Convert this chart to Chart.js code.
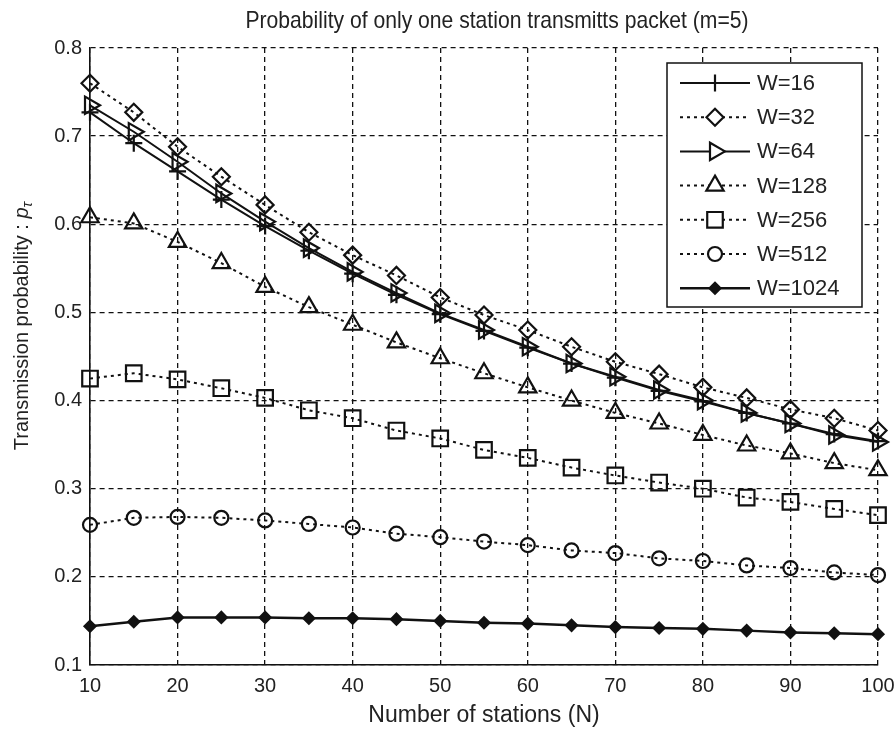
<!DOCTYPE html>
<html lang="en">
<head>
    <meta charset="UTF-8">
    <title>Probability of only one station transmitts packet (m=5)</title>
    <script src="https://cdn.jsdelivr.net/npm/chart.js"></script>
    <style>
        html, body { margin: 0; padding: 0; background: #fff; }
        #wrap { width: 894px; height: 731px; }
    </style>
</head>
<body>
<div id="wrap"><canvas id="probChart" width="894" height="731"></canvas></div>

<script>
    const stations = [10, 15, 20, 25, 30, 35, 40, 45, 50, 55, 60, 65, 70, 75, 80, 85, 90, 95, 100];

    const w16   = [0.727, 0.692, 0.660, 0.628, 0.598, 0.570, 0.544, 0.520, 0.498, 0.479, 0.460, 0.442, 0.426, 0.411, 0.399, 0.386, 0.374, 0.362, 0.354];
    const w32   = [0.760, 0.727, 0.688, 0.654, 0.622, 0.591, 0.565, 0.542, 0.517, 0.497, 0.480, 0.461, 0.444, 0.430, 0.415, 0.403, 0.390, 0.380, 0.366];
    const w64   = [0.735, 0.705, 0.671, 0.635, 0.603, 0.573, 0.546, 0.522, 0.499, 0.480, 0.461, 0.442, 0.427, 0.412, 0.400, 0.386, 0.374, 0.361, 0.353];
    const w128  = [0.608, 0.601, 0.580, 0.556, 0.529, 0.506, 0.486, 0.466, 0.448, 0.431, 0.415, 0.400, 0.386, 0.374, 0.361, 0.349, 0.340, 0.329, 0.321];
    const w256  = [0.425, 0.431, 0.424, 0.414, 0.403, 0.389, 0.380, 0.366, 0.357, 0.344, 0.335, 0.324, 0.315, 0.307, 0.300, 0.290, 0.285, 0.277, 0.270];
    const w512  = [0.259, 0.267, 0.268, 0.267, 0.264, 0.260, 0.256, 0.249, 0.245, 0.240, 0.236, 0.230, 0.227, 0.221, 0.218, 0.213, 0.210, 0.205, 0.202];
    const w1024 = [0.144, 0.149, 0.154, 0.154, 0.154, 0.153, 0.153, 0.152, 0.150, 0.148, 0.147, 0.145, 0.143, 0.142, 0.141, 0.139, 0.137, 0.136, 0.135];

    const seriesLabels = ['W=16', 'W=32', 'W=64', 'W=128', 'W=256', 'W=512', 'W=1024'];
    const yTicks = [0.1, 0.2, 0.3, 0.4, 0.5, 0.6, 0.7, 0.8];

    const ink = '#111';
    const dotted = [3, 4];
    const fontFam = '"Liberation Sans", Arial, sans-serif';

    function pts(arr) {
        return arr.map((v, i) => ({ x: stations[i], y: v }));
    }

    function series(label, values, style, radius, opts) {
        return Object.assign({
            label: label,
            data: pts(values),
            borderColor: ink,
            borderWidth: 2,
            borderDash: [],
            pointStyle: style,
            pointRadius: radius,
            pointHoverRadius: radius,
            pointBorderColor: ink,
            pointBorderWidth: 2.2,
            pointBackgroundColor: 'rgba(0,0,0,0)',
            pointRotation: 0,
            tension: 0,
            clip: false
        }, opts || {});
    }

    const datasets = [
        series(seriesLabels[0], w16, 'cross', 8.5),
        series(seriesLabels[1], w32, 'rectRot', 8.5, { borderDash: dotted }),
        series(seriesLabels[2], w64, 'triangle', 10, { pointRotation: 90 }),
        series(seriesLabels[3], w128, 'triangle', 10, { borderDash: dotted }),
        series(seriesLabels[4], w256, 'rect', 11, { borderDash: dotted }),
        series(seriesLabels[5], w512, 'circle', 7, { borderDash: dotted }),
        series(seriesLabels[6], w1024, 'rectRot', 5.5, { pointBackgroundColor: ink, borderWidth: 2.5 })
    ];

    // title, y title with subscript, legend box inside the plot
    const decorations = {
        id: 'decorations',
        afterDraw(chart) {
            const ctx = chart.ctx;

            ctx.save();
            ctx.fillStyle = '#222';
            ctx.textAlign = 'center';
            ctx.textBaseline = 'middle';
            ctx.font = '24px ' + fontFam;
            ctx.translate(497, 21);
            ctx.scale(0.88, 1);
            ctx.fillText('Probability of only one station transmitts packet (m=5)', 0, 0);
            ctx.restore();

            // y axis title
            ctx.save();
            ctx.fillStyle = '#222';
            ctx.translate(22, 326);
            ctx.rotate(-Math.PI / 2);
            ctx.textBaseline = 'middle';
            ctx.font = '20px ' + fontFam;
            const main = 'Transmission probability : ';
            const wMain = ctx.measureText(main).width;
            ctx.font = 'italic 20px ' + fontFam;
            const wP = ctx.measureText('p').width;
            ctx.font = 'italic 15px ' + fontFam;
            const wT = ctx.measureText('\u03C4').width;
            const x0 = -(wMain + wP + wT) / 2;
            ctx.textAlign = 'left';
            ctx.font = '20px ' + fontFam;
            ctx.fillText(main, x0, 0);
            ctx.font = 'italic 20px ' + fontFam;
            ctx.fillText('p', x0 + wMain, 0);
            ctx.font = 'italic 15px ' + fontFam;
            ctx.fillText('\u03C4', x0 + wMain + wP, 6);
            ctx.restore();

            // legend
            const lx = 667, ly = 63, lw = 195, lh = 244;
            ctx.save();
            ctx.fillStyle = '#fff';
            ctx.fillRect(lx, ly, lw, lh);
            ctx.strokeStyle = ink;
            ctx.lineWidth = 1.5;
            ctx.strokeRect(lx, ly, lw, lh);
            chart.data.datasets.forEach((ds, i) => {
                const y = ly + 20 + i * 34.2;
                ctx.strokeStyle = ink;
                ctx.lineWidth = ds.borderWidth;
                ctx.setLineDash(ds.borderDash || []);
                ctx.beginPath();
                ctx.moveTo(lx + 13, y);
                ctx.lineTo(lx + 83, y);
                ctx.stroke();
                ctx.setLineDash([]);
                ctx.fillStyle = ds.pointBackgroundColor === ink ? ink : '#fff';
                ctx.lineWidth = ds.pointBorderWidth;
                Chart.helpers.drawPoint(ctx, {
                    pointStyle: ds.pointStyle,
                    radius: ds.pointRadius,
                    rotation: ds.pointRotation,
                    borderWidth: ds.pointBorderWidth
                }, lx + 48, y);
                ctx.fillStyle = '#222';
                ctx.font = '22px ' + fontFam;
                ctx.textAlign = 'left';
                ctx.textBaseline = 'middle';
                ctx.fillText(ds.label, lx + 90, y + 1);
            });
            ctx.restore();
        }
    };

    const gridStyle = {
        color: ink,
        lineWidth: 1.3,
        drawTicks: false
    };

    new Chart(document.getElementById('probChart'), {
        type: 'line',
        data: { datasets: datasets },
        options: {
            responsive: false,
            animation: false,
            layout: { padding: { top: 48, right: 16, left: 0, bottom: 0 } },
            plugins: {
                legend: { display: false },
                tooltip: { enabled: false }
            },
            scales: {
                x: {
                    type: 'linear',
                    min: 10,
                    max: 100,
                    grid: gridStyle,
                    border: { display: true, color: ink, width: 1.6, dash: [5, 4] },
                    ticks: {
                        stepSize: 10,
                        padding: 9,
                        color: '#222',
                        font: { family: fontFam, size: 20 }
                    },
                    title: {
                        display: true,
                        text: 'Number of stations (N)',
                        color: '#222',
                        font: { family: fontFam, size: 23 },
                        padding: { top: 0, bottom: 2 }
                    },
                    afterFit(scale) {
                        scale.height = 66;
                        scale.paddingRight = 0;
                        scale.paddingLeft = 0;
                    }
                },
                y: {
                    type: 'linear',
                    min: 0.1,
                    max: 0.8,
                    grid: gridStyle,
                    border: { display: true, color: ink, width: 1.6, dash: [5, 4] },
                    afterBuildTicks(scale) {
                        scale.ticks = yTicks.map(v => ({ value: v }));
                    },
                    ticks: {
                        padding: 8,
                        color: '#222',
                        font: { family: fontFam, size: 20 },
                        callback: v => Number(v).toFixed(1)
                    },
                    afterFit(scale) {
                        scale.width = 90;
                        scale.paddingTop = 0;
                        scale.paddingBottom = 0;
                    }
                }
            }
        },
        plugins: [decorations]
    });
</script>
</body>
</html>
